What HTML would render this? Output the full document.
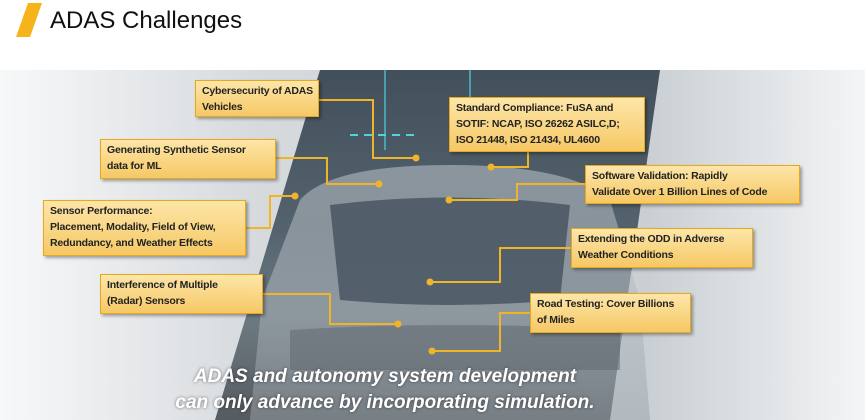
<!DOCTYPE html>
<html><head><meta charset="utf-8"><style>
body{margin:0;width:865px;height:420px;overflow:hidden;background:#fff;font-family:"Liberation Sans",sans-serif;position:relative}
.t{position:absolute;left:50px;top:7px;font-size:24px;color:#111}
.box{position:absolute;background:linear-gradient(#fde6a8,#f6c865);border:1.5px solid #e8a81e;box-shadow:2px 2px 3px rgba(0,0,0,.35);font-size:10.5px;font-weight:bold;color:#222;line-height:16px;padding:2px 6px;box-sizing:border-box;letter-spacing:-.2px;white-space:nowrap}
.cap{position:absolute;left:150px;width:470px;text-align:center;color:#fff;font-style:italic;font-weight:bold;font-size:19px;line-height:26px;top:364px;text-shadow:0 0 3px rgba(0,0,0,.5)}
</style></head><body>
<svg width="865" height="420" style="position:absolute;left:0;top:0">
<defs>
<linearGradient id="bg" x1="0" x2="1"><stop offset="0" stop-color="#f7f8f9"/><stop offset=".3" stop-color="#d6dadd"/><stop offset=".75" stop-color="#c9cfd3"/><stop offset="1" stop-color="#f4f5f6"/></linearGradient>
<linearGradient id="dk" x1="0" y1="0" x2="0" y2="1"><stop offset="0" stop-color="#42505c"/><stop offset=".45" stop-color="#53626d"/><stop offset=".7" stop-color="#6e7a82"/><stop offset="1" stop-color="#555c61"/></linearGradient>
<linearGradient id="car" x1="0" y1="0" x2="0" y2="1"><stop offset="0" stop-color="#c9d0d5"/><stop offset="1" stop-color="#9aa3aa"/></linearGradient>
</defs>
<rect x="0" y="70" width="865" height="350" fill="url(#bg)"/>
<polygon points="320,70 660,70 610,420 215,420" fill="url(#dk)"/>
<path d="M300,200 Q330,165 450,165 Q570,165 610,200 L640,300 L650,420 L250,420 L262,300 Z" fill="url(#car)" opacity=".5"/>
<path d="M330,205 Q450,190 570,205 L560,300 Q450,310 340,300 Z" fill="#3a4855" opacity=".7"/>
<path d="M290,330 Q450,320 620,330 L620,370 L290,370 Z" fill="#5b646b" opacity=".5"/>
<path d="M385,70 L385,150 M470,70 L470,150" stroke="#4fd3dd" stroke-width="2" opacity=".6"/>
<line x1="350" y1="135" x2="420" y2="135" stroke="#4fd3dd" stroke-width="2" stroke-dasharray="8,6"/>
<polygon points="28,3 42,3 30,37 16,37" fill="#f5b41a"/>
<g stroke="#f0b429" stroke-width="2" fill="none">
<polyline points="318,100 373,100 373,158 416,158"/>
<polyline points="528,151 528,167 491,167"/>
<polyline points="275,158 327,158 327,184 379,184"/>
<polyline points="585,184 517,184 517,200 449,200"/>
<polyline points="245,228 270,228 270,196 295,196"/>
<polyline points="571,248 500,248 500,282 430,282"/>
<polyline points="262,294 330,294 330,324 398,324"/>
<polyline points="530,313 500,313 500,351 432,351"/>
</g>
<g fill="#f0b429">
<circle cx="416" cy="158" r="3.5"/><circle cx="491" cy="167" r="3.5"/><circle cx="379" cy="184" r="3.5"/><circle cx="449" cy="200" r="3.5"/><circle cx="295" cy="196" r="3.5"/><circle cx="430" cy="282" r="3.5"/><circle cx="398" cy="324" r="3.5"/><circle cx="432" cy="351" r="3.5"/>
</g>
</svg>
<div class="t">ADAS Challenges</div>
<div class="box" style="left:195px;top:80px;width:124px;height:37px">Cybersecurity of ADAS<br>Vehicles</div>
<div class="box" style="left:449px;top:97px;width:196px;height:55px">Standard Compliance: FuSA and<br>SOTIF: NCAP, ISO 26262 ASILC,D;<br>ISO 21448, ISO 21434, UL4600</div>
<div class="box" style="left:100px;top:139px;width:176px;height:40px">Generating Synthetic Sensor<br>data for ML</div>
<div class="box" style="left:585px;top:165px;width:215px;height:39px">Software Validation: Rapidly<br>Validate Over 1 Billion Lines of Code</div>
<div class="box" style="left:43px;top:200px;width:203px;height:56px">Sensor Performance:<br>Placement, Modality, Field of View,<br>Redundancy, and Weather Effects</div>
<div class="box" style="left:571px;top:228px;width:182px;height:40px">Extending the ODD in Adverse<br>Weather Conditions</div>
<div class="box" style="left:100px;top:274px;width:163px;height:40px">Interference of Multiple<br>(Radar) Sensors</div>
<div class="box" style="left:530px;top:293px;width:161px;height:40px">Road Testing: Cover Billions<br>of Miles</div>
<div class="cap">ADAS and autonomy system development<br>can only advance by incorporating simulation.</div>
</body></html>
